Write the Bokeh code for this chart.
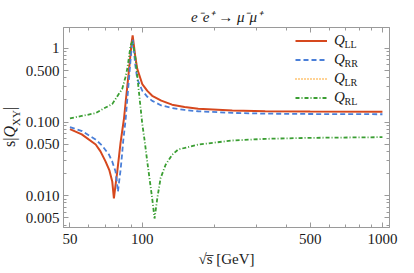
from bokeh.plotting import figure
from bokeh.models import (Legend, LegendItem, Label, FixedTicker, LogAxis,
                          ColumnDataSource, Range1d, Div, CustomJSTickFormatter)
from bokeh.layouts import row
from bokeh.embed import file_html
from bokeh.resources import INLINE

NaN = float("nan")

# ---------------- data ----------------
sqrt_s_ll = [50, 56, 64, 67, 70.3, 73, 75, 76.2, 77.3, 78.7, 80, 81.2, 82.5,
             83.9, 85.2, 86.6, 88, 89.4, 90.3, 91.2, 92.3, 93.5, 95.3, 100,
             105, 110, 120, 133, 150, 171, 237, 325, 500, 1000]
q_ll = [0.080, 0.068, 0.0495, 0.040, 0.0292, 0.022, 0.0156, 0.0092, 0.0135,
        0.0213, 0.034, 0.052, 0.075, 0.11, 0.18, 0.30, 0.50, 0.85, 1.2, 1.5,
        1.10, 0.78, 0.527, 0.328, 0.265, 0.227, 0.195, 0.172, 0.160, 0.152,
        0.143, 0.140, 0.139, 0.138]

sqrt_s_rr = [50, 56.2, 63.9, 68, 72.7, 75, 77.4, 78.5, 79.2, 80.2, 81.2, 82.3,
             83.3, 84.2, 85.2, 86.6, 88, 89.4, 90.3, 91.2, 92.3, 93.5, 95.3,
             100, 105, 110, 120, 133, 150, 171, 237, 325, 500, 1000]
q_rr = [0.0855, 0.0753, 0.0579, 0.048, 0.0361, 0.029, 0.0213, 0.015, 0.0113,
        0.016, 0.022, 0.035, 0.055, 0.075, 0.105, 0.2, 0.38, 0.7, 1.0, 1.3,
        0.94, 0.6, 0.384, 0.266, 0.22, 0.194, 0.168, 0.155, 0.146, 0.140,
        0.133, 0.130, 0.1285, 0.1275]

# Q_LR is listed in the legend but no curve of it is visible in the plot
sqrt_s_lr = [50, 1000]
q_lr = [NaN, NaN]

sqrt_s_rl = [50, 56, 63.9, 70, 75, 79, 82.5, 85, 86.6, 88, 89.4, 90.5, 91.2,
             92, 93.8, 96.9, 100, 102, 104.9, 107.5, 110, 112.5, 115.5, 119.2,
             125.1, 133.4, 141, 171, 237, 325, 500, 1000]
q_rl = [0.112, 0.121, 0.132, 0.156, 0.175, 0.228, 0.281, 0.40, 0.527, 0.75,
        1.10, 1.2, 1.22, 1.05, 0.72, 0.252, 0.095, 0.06, 0.0292, 0.016,
        0.0092, 0.0049, 0.0092, 0.0173, 0.0263, 0.0361, 0.0423, 0.0495,
        0.0561, 0.0591, 0.061, 0.0623]

x_major = [50, 100, 500, 1000]
x_minor = [60, 70, 80, 90, 200, 300, 400, 600, 700, 800, 900]
y_major = [0.005, 0.01, 0.05, 0.1, 0.5, 1]
y_major_labels = ["0.005", "0.010", "0.050", "0.100", "0.500", "1"]
y_minor = [0.004, 0.006, 0.007, 0.008, 0.009, 0.02, 0.03, 0.04, 0.06, 0.07,
           0.08, 0.09, 0.2, 0.3, 0.4, 0.6, 0.7, 0.8, 0.9]

series_names = ["LL", "RR", "LR", "RL"]
colors = ["#D6481E", "#4A7FD8", "#FFA82E", "#3A9E32"]

title_text = "e⁻e⁺ → μ⁻μ⁺"
x_label = "√s̅ [GeV]"

FONT = "Liberation Serif"
FRAME = "#9a9a9a"
TXT = "#1a1a1a"

p = figure(width=390, height=272, x_axis_type="log", y_axis_type="log",
           x_range=Range1d(47, 1070), y_range=Range1d(0.0037, 1.92),
           output_backend="svg", toolbar_location=None,
           min_border_left=40, min_border_right=23, min_border_top=27,
           min_border_bottom=45)
p.xgrid.visible = False
p.ygrid.visible = False
p.outline_line_color = FRAME
p.background_fill_color = "white"

p.title.text = title_text
p.title.text_font = FONT
p.title.text_font_style = "italic"
p.title.text_font_size = "15px"
p.title.text_color = TXT
p.title.align = "center"
p.title.standoff = 5


def style_axis(ax, show_labels=True):
    ax.axis_line_color = FRAME
    ax.major_tick_line_color = FRAME
    ax.minor_tick_line_color = FRAME
    ax.major_tick_in = 5
    ax.major_tick_out = 0
    ax.minor_tick_in = 3
    ax.minor_tick_out = 0
    ax.major_label_text_font = FONT
    ax.major_label_text_color = TXT
    if show_labels:
        ax.major_label_text_font_size = "15px"
    else:
        ax.formatter = CustomJSTickFormatter(code="return ''")
        ax.major_label_text_font_size = "1px"
        ax.major_label_standoff = 0


p.xaxis.ticker = FixedTicker(ticks=x_major, minor_ticks=x_minor)
p.yaxis.ticker = FixedTicker(ticks=y_major, minor_ticks=y_minor)
style_axis(p.xaxis[0])
style_axis(p.yaxis[0])
p.xaxis.major_label_standoff = 6
p.yaxis.major_label_standoff = 4
p.yaxis.major_label_overrides = {v: s for v, s in zip(y_major, y_major_labels)}
p.xaxis.major_label_overrides = {v: str(v) for v in x_major}
p.xaxis.axis_label = x_label
p.xaxis.axis_label_text_font = FONT
p.xaxis.axis_label_text_font_size = "15px"
p.xaxis.axis_label_text_font_style = "normal"
p.xaxis.axis_label_text_color = TXT
p.xaxis.axis_label_standoff = 4

top = LogAxis(ticker=FixedTicker(ticks=x_major, minor_ticks=x_minor))
style_axis(top, show_labels=False)
p.add_layout(top, "above")
right = LogAxis(ticker=FixedTicker(ticks=y_major, minor_ticks=y_minor))
style_axis(right, show_labels=False)
p.add_layout(right, "right")

r_ll = p.line("x", "y", source=ColumnDataSource(dict(x=sqrt_s_ll, y=q_ll)),
              line_color=colors[0], line_width=2.0)
r_rr = p.line("x", "y", source=ColumnDataSource(dict(x=sqrt_s_rr, y=q_rr)),
              line_color=colors[1], line_width=1.8, line_dash="5 3")
r_lr = p.line("x", "y", source=ColumnDataSource(dict(x=sqrt_s_lr, y=q_lr)),
              line_color=colors[2], line_width=1.8, line_dash="1 2")
r_rl = p.line("x", "y", source=ColumnDataSource(dict(x=sqrt_s_rl, y=q_rl)),
              line_color=colors[3], line_width=1.8, line_dash="4 2 1 2")

renderers = [r_ll, r_rr, r_lr, r_rl]
legend = Legend(items=[LegendItem(label="Q", renderers=[r]) for r in renderers],
                location=(232, 120), padding=0, spacing=0, margin=0,
                glyph_width=32, glyph_height=19, label_height=19,
                label_standoff=7, border_line_alpha=0, background_fill_alpha=0,
                label_text_font=FONT, label_text_font_style="italic",
                label_text_font_size="15px", label_text_color=TXT)
p.add_layout(legend, "center")

# subscripts of legend labels (inside the frame)
for i, name in enumerate(series_names):
    p.add_layout(Label(x=281, y=183.5 - 19 * i, x_units="screen", y_units="screen",
                       text=name, text_font=FONT, text_font_size="10px",
                       text_color=TXT, text_baseline="middle", text_align="left"))

# y-axis label (rotated, with subscript) as real HTML text
ylabel_html = (
    '<div style="position:absolute;left:12px;top:127px;'
    'transform:translate(-50%,-50%) rotate(-90deg);white-space:nowrap;'
    "font-family:'Liberation Serif',serif;font-size:16px;line-height:1;"
    'color:#1a1a1a;">s|<i>Q</i><sub style="font-size:11px;">XY</sub>|</div>'
)
ydiv = Div(text=ylabel_html, width=22, height=272, margin=0)

layout = row(ydiv, p)
open("out.html", "w").write(file_html(layout, INLINE))
